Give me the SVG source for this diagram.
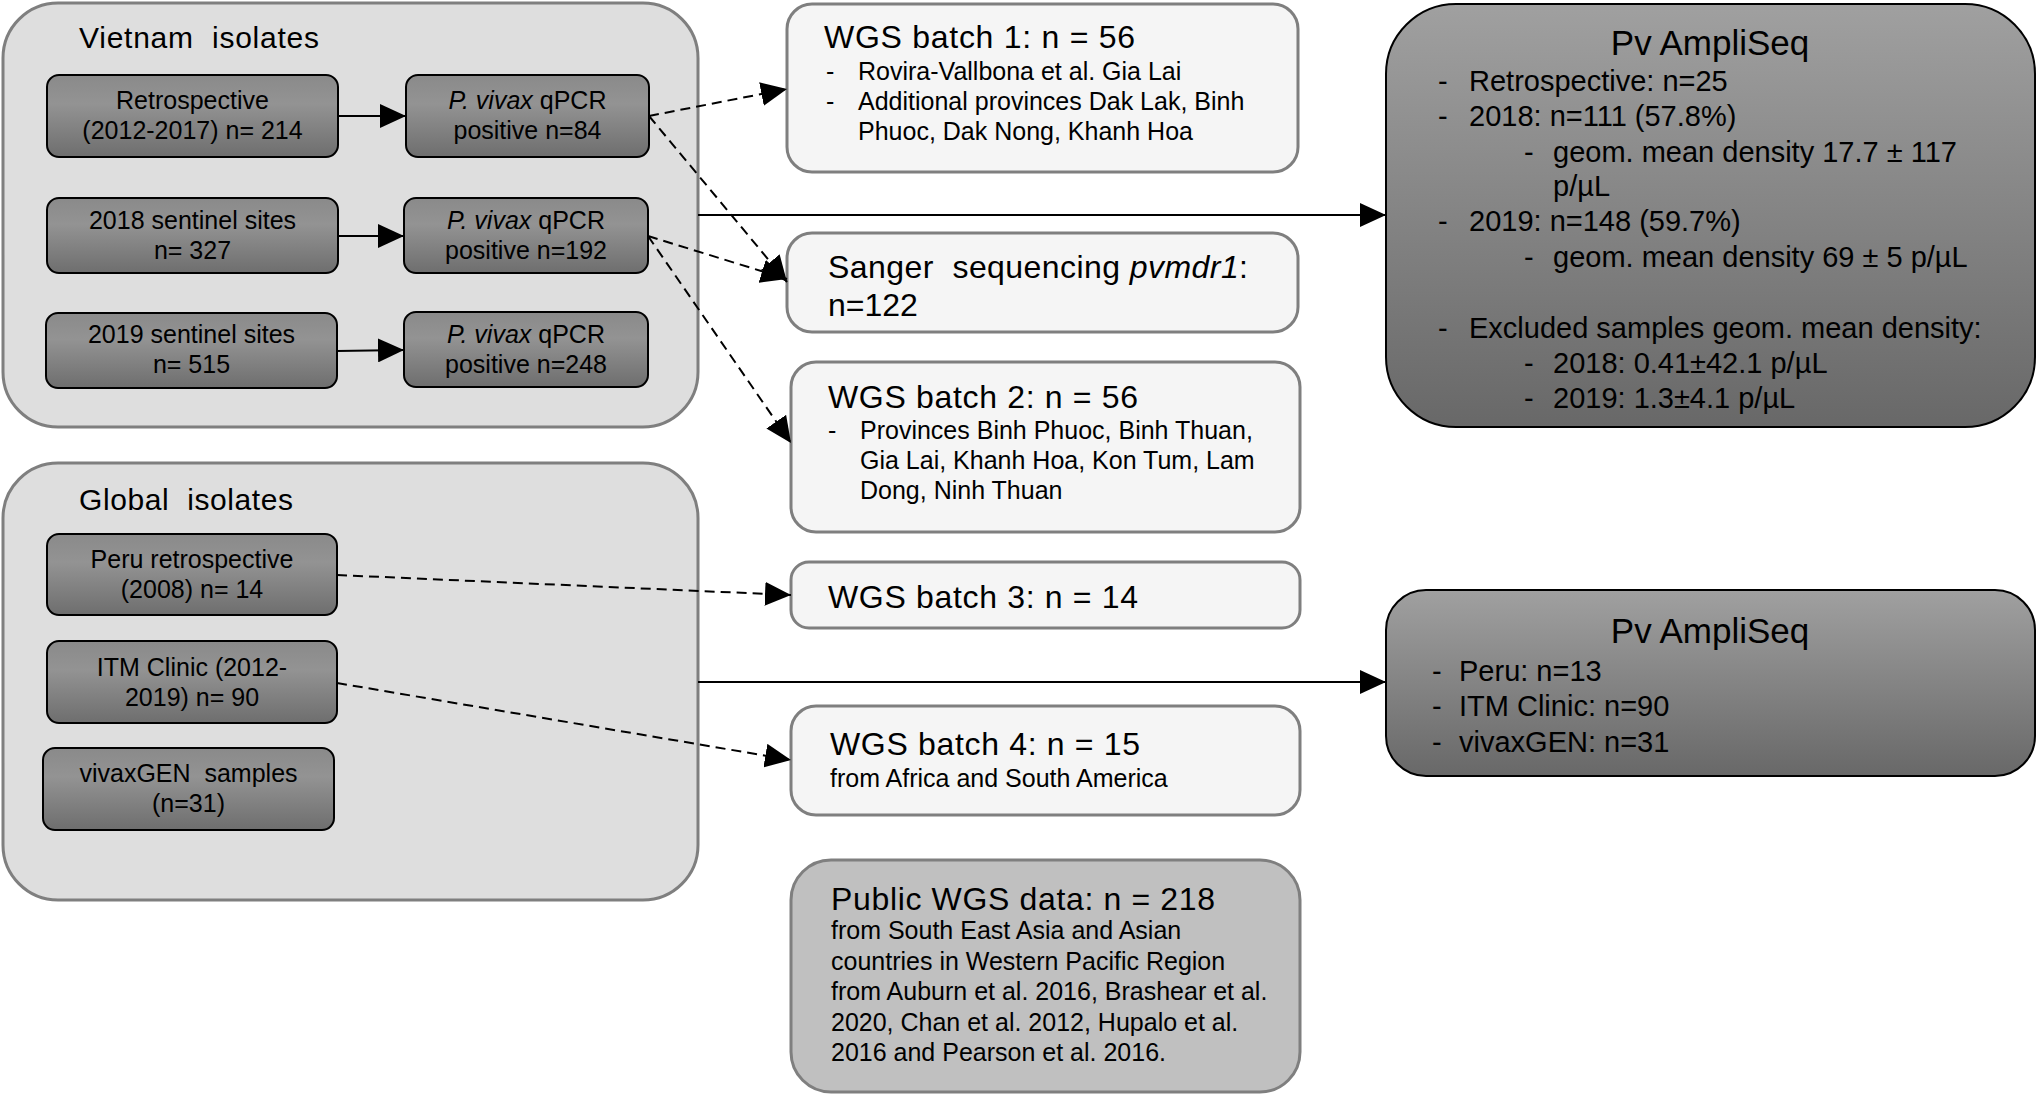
<svg xmlns="http://www.w3.org/2000/svg" width="2039" height="1096" viewBox="0 0 2039 1096">
<style>
text{font-family:"Liberation Sans",Arial,sans-serif;fill:#000;}
.cont{fill:#dedede;stroke:#7f7f7f;stroke-width:3;}
.inner{fill:url(#gInner);stroke:#000;stroke-width:2;}
.light{fill:#f5f5f5;stroke:#7f7f7f;stroke-width:3;}
.pub{fill:#c0c0c0;stroke:#7f7f7f;stroke-width:3;}
.amp{fill:url(#gAmp);stroke:#000;stroke-width:2;}
.t25{font-size:25px;}
.t25c{font-size:25px;text-anchor:middle;}
.t29{font-size:29px;}
.title{font-size:32px;}
.ctitle{font-size:30px;}
.atitle{font-size:35px;text-anchor:middle;}
.solid{fill:none;stroke:#000;stroke-width:2;}
.dash{fill:none;stroke:#000;stroke-width:2;stroke-dasharray:10 6;}
</style>
<defs>
<linearGradient id="gInner" x1="0" y1="0" x2="0" y2="1">
<stop offset="0" stop-color="#8a8a8a"/>
<stop offset="0.35" stop-color="#939393"/>
<stop offset="1" stop-color="#6e6e6e"/>
</linearGradient>
<linearGradient id="gAmp" x1="0" y1="0" x2="0" y2="1">
<stop offset="0" stop-color="#a0a0a0"/>
<stop offset="1" stop-color="#686868"/>
</linearGradient>
<marker id="ah" viewBox="0 0 26 24" refX="26" refY="12" markerWidth="26" markerHeight="24" markerUnits="userSpaceOnUse" orient="auto">
<path d="M0,0 L26,12 L0,24 z" fill="#000"/>
</marker>
</defs>

<g id="vietnam-isolates">
<rect class="cont" x="3" y="3" width="695" height="424" rx="55"/>
<text class="ctitle" x="79" y="48" textLength="240" xml:space="preserve">Vietnam  isolates</text>
</g>
<g id="global-isolates">
<rect class="cont" x="3" y="463" width="695" height="437" rx="55"/>
<text class="ctitle" x="79" y="510" textLength="214" xml:space="preserve">Global  isolates</text>
</g>

<g id="retrospective">
<rect class="inner" x="47" y="75" width="291" height="82" rx="12"/>
<text class="t25c" x="192.5" y="109">Retrospective</text>
<text class="t25c" x="192.5" y="139">(2012-2017) n= 214</text>
</g>
<g id="qpcr-84">
<rect class="inner" x="406" y="75" width="243" height="82" rx="12"/>
<text class="t25c" x="527.5" y="109"><tspan font-style="italic">P. vivax</tspan> qPCR</text>
<text class="t25c" x="527.5" y="139">positive n=84</text>
</g>
<g id="sentinel-2018">
<rect class="inner" x="47" y="198" width="291" height="75" rx="12"/>
<text class="t25c" x="192.5" y="229">2018 sentinel sites</text>
<text class="t25c" x="192.5" y="259">n= 327</text>
</g>
<g id="qpcr-192">
<rect class="inner" x="404" y="198" width="244" height="75" rx="12"/>
<text class="t25c" x="526" y="229"><tspan font-style="italic">P. vivax</tspan> qPCR</text>
<text class="t25c" x="526" y="259">positive n=192</text>
</g>
<g id="sentinel-2019">
<rect class="inner" x="46" y="313" width="291" height="75" rx="12"/>
<text class="t25c" x="191.5" y="343">2019 sentinel sites</text>
<text class="t25c" x="191.5" y="373">n= 515</text>
</g>
<g id="qpcr-248">
<rect class="inner" x="404" y="312" width="244" height="75" rx="12"/>
<text class="t25c" x="526" y="343"><tspan font-style="italic">P. vivax</tspan> qPCR</text>
<text class="t25c" x="526" y="373">positive n=248</text>
</g>

<g id="peru">
<rect class="inner" x="47" y="534" width="290" height="81" rx="12"/>
<text class="t25c" x="192" y="568">Peru retrospective</text>
<text class="t25c" x="192" y="598">(2008) n= 14</text>
</g>
<g id="itm">
<rect class="inner" x="47" y="641" width="290" height="82" rx="12"/>
<text class="t25c" x="192" y="676">ITM Clinic (2012-</text>
<text class="t25c" x="192" y="706">2019) n= 90</text>
</g>
<g id="vivaxgen">
<rect class="inner" x="43" y="748" width="291" height="82" rx="12"/>
<text class="t25c" x="188.5" y="782" xml:space="preserve">vivaxGEN  samples</text>
<text class="t25c" x="188.5" y="812">(n=31)</text>
</g>

<g id="wgs1">
<rect class="light" x="787" y="4" width="511" height="168" rx="25"/>
<text class="title" x="824" y="48" textLength="311">WGS batch 1: n = 56</text>
<text class="t25" x="826" y="80">-</text><text class="t25" x="858" y="80">Rovira-Vallbona et al. Gia Lai</text>
<text class="t25" x="826" y="110">-</text><text class="t25" x="858" y="110">Additional provinces Dak Lak, Binh</text>
<text class="t25" x="858" y="140">Phuoc, Dak Nong, Khanh Hoa</text>
</g>
<g id="sanger">
<rect class="light" x="787" y="233" width="511" height="99" rx="25"/>
<text class="title" x="828" y="278" textLength="420" xml:space="preserve">Sanger  sequencing <tspan font-style="italic">pvmdr1</tspan>:</text>
<text class="title" x="828" y="316">n=122</text>
</g>
<g id="wgs2">
<rect class="light" x="791" y="362" width="509" height="170" rx="25"/>
<text class="title" x="828" y="408" textLength="310">WGS batch 2: n = 56</text>
<text class="t25" x="828" y="439">-</text><text class="t25" x="860" y="439">Provinces Binh Phuoc, Binh Thuan,</text>
<text class="t25" x="860" y="469">Gia Lai, Khanh Hoa, Kon Tum, Lam</text>
<text class="t25" x="860" y="499">Dong, Ninh Thuan</text>
</g>
<g id="wgs3">
<rect class="light" x="791" y="562" width="509" height="66" rx="18"/>
<text class="title" x="828" y="608" textLength="310">WGS batch 3: n = 14</text>
</g>
<g id="wgs4">
<rect class="light" x="791" y="706" width="509" height="109" rx="25"/>
<text class="title" x="830" y="755" textLength="310">WGS batch 4: n = 15</text>
<text class="t25" x="830" y="787">from Africa and South America</text>
</g>
<g id="public-wgs">
<rect class="pub" x="791" y="860" width="509" height="232" rx="40"/>
<text class="title" x="831" y="910" textLength="384">Public WGS data: n = 218</text>
<text class="t25" x="831" y="939">from South East Asia and Asian</text>
<text class="t25" x="831" y="969.5">countries in Western Pacific Region</text>
<text class="t25" x="831" y="1000">from Auburn et al. 2016, Brashear et al.</text>
<text class="t25" x="831" y="1030.5">2020, Chan et al. 2012, Hupalo et al.</text>
<text class="t25" x="831" y="1061">2016 and Pearson et al. 2016.</text>
</g>

<g id="ampliseq-vietnam">
<rect class="amp" x="1386" y="4" width="649" height="423" rx="70"/>
<text class="atitle" x="1710" y="55">Pv AmpliSeq</text>
<text class="t29" x="1438" y="91">-</text><text class="t29" x="1469" y="91">Retrospective: n=25</text>
<text class="t29" x="1438" y="126">-</text><text class="t29" x="1469" y="126">2018: n=111 (57.8%)</text>
<text class="t29" x="1524" y="162">-</text><text class="t29" x="1553" y="162">geom. mean density 17.7 ± 117</text>
<text class="t29" x="1553" y="196">p/µL</text>
<text class="t29" x="1438" y="231">-</text><text class="t29" x="1469" y="231">2019: n=148 (59.7%)</text>
<text class="t29" x="1524" y="267">-</text><text class="t29" x="1553" y="267">geom. mean density 69 ± 5 p/µL</text>
<text class="t29" x="1438" y="338">-</text><text class="t29" x="1469" y="338">Excluded samples geom. mean density:</text>
<text class="t29" x="1524" y="373">-</text><text class="t29" x="1553" y="373">2018: 0.41±42.1 p/µL</text>
<text class="t29" x="1524" y="408">-</text><text class="t29" x="1553" y="408">2019: 1.3±4.1 p/µL</text>
</g>
<g id="ampliseq-global">
<rect class="amp" x="1386" y="590" width="649" height="186" rx="40"/>
<text class="atitle" x="1710" y="643">Pv AmpliSeq</text>
<text class="t29" x="1432" y="681">-</text><text class="t29" x="1459" y="681">Peru: n=13</text>
<text class="t29" x="1432" y="716">-</text><text class="t29" x="1459" y="716">ITM Clinic: n=90</text>
<text class="t29" x="1432" y="752">-</text><text class="t29" x="1459" y="752">vivaxGEN: n=31</text>
</g>

<g id="connectors">
<path class="solid" d="M338,116 L406,116" marker-end="url(#ah)"/>
<path class="solid" d="M338,236 L404,236" marker-end="url(#ah)"/>
<path class="solid" d="M337,351 L404,350" marker-end="url(#ah)"/>
<path class="dash" d="M649,116 L787,89" marker-end="url(#ah)"/>
<path class="dash" d="M649,116 L787,282" marker-end="url(#ah)"/>
<path class="dash" d="M648,236 L787,279" marker-end="url(#ah)"/>
<path class="dash" d="M648,236 L791,443" marker-end="url(#ah)"/>
<path class="solid" d="M698,215 L1386,215" marker-end="url(#ah)"/>
<path class="dash" d="M337,575 L791,595" marker-end="url(#ah)"/>
<path class="dash" d="M337,683 L791,760" marker-end="url(#ah)"/>
<path class="solid" d="M698,682 L1386,682" marker-end="url(#ah)"/>
</g>
</svg>
